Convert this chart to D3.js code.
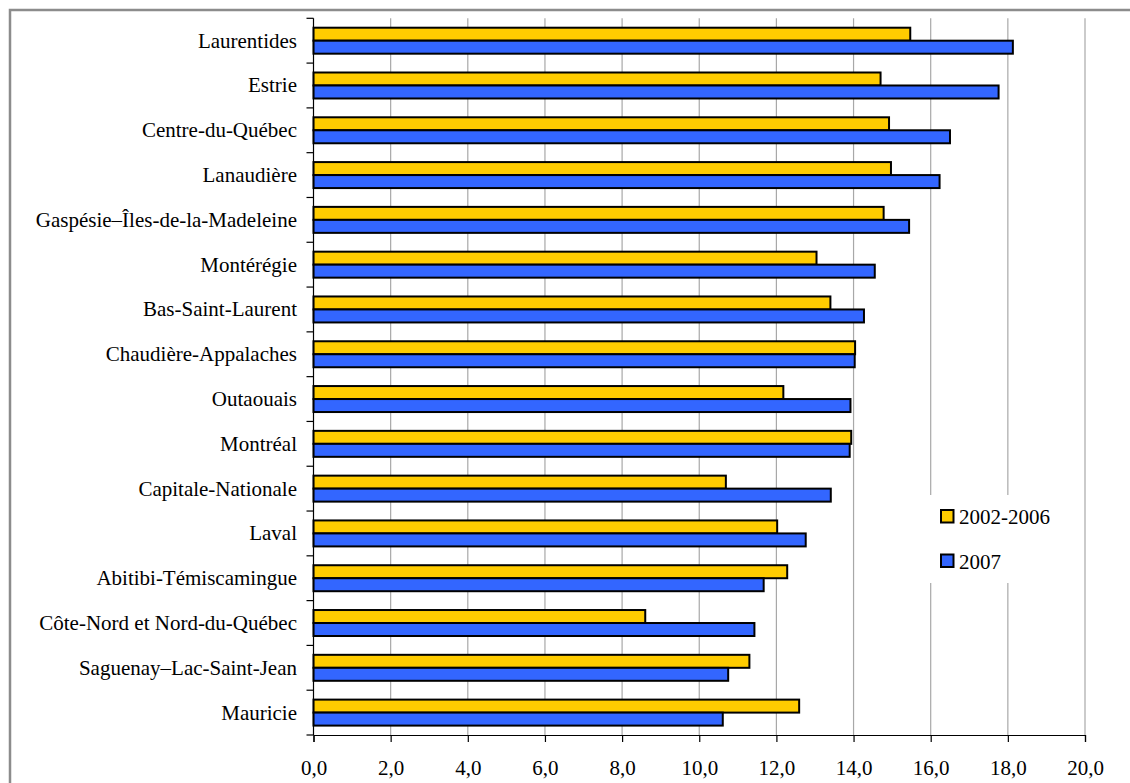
<!DOCTYPE html>
<html>
<head>
<meta charset="utf-8">
<script src="https://cdn.jsdelivr.net/npm/d3@7"></script>
<style>
  html, body { margin: 0; padding: 0; background: #fff; }
  svg { display: block; }
  svg text { font-family: "Liberation Serif", "Times New Roman", Times, "DejaVu Serif", serif; font-size: 21px; fill: #000; }
</style>
</head>
<body>
<svg id="chart" width="1130" height="783"></svg>
<script>
const categories = [
  "Laurentides", "Estrie", "Centre-du-Québec", "Lanaudière",
  "Gaspésie–Îles-de-la-Madeleine", "Montérégie", "Bas-Saint-Laurent",
  "Chaudière-Appalaches", "Outaouais", "Montréal", "Capitale-Nationale",
  "Laval", "Abitibi-Témiscamingue", "Côte-Nord et Nord-du-Québec",
  "Saguenay–Lac-Saint-Jean", "Mauricie"
];
const series2002_2006 = [15.47, 14.70, 14.92, 14.97, 14.78, 13.04, 13.40, 14.04, 12.18, 13.94, 10.69, 12.02, 12.28, 8.60, 11.30, 12.59];
const series2007 = [18.13, 17.76, 16.50, 16.23, 15.44, 14.55, 14.27, 14.03, 13.92, 13.90, 13.41, 12.76, 11.67, 11.43, 10.75, 10.61];
const seriesNames = ["2002-2006", "2007"];
const seriesColors = ["#FFCC00", "#3366FF"];
const xTicks = [0, 2, 4, 6, 8, 10, 12, 14, 16, 18, 20];

(function () {
const svg = d3.select("#chart");

const plotL = 313.5, plotR = 1085, plotT = 18.3, plotB = 735;

const x = d3.scaleLinear().domain([0, 20]).range([plotL, plotR]);
const y = d3.scaleBand().domain(categories).range([plotT, plotB]).padding(0);

// outer frame
svg.append("rect")
  .attr("x", 10).attr("y", 10)
  .attr("width", 1140).attr("height", 800)
  .attr("fill", "none").attr("stroke", "#8c8c8c").attr("stroke-width", 2.5);

// gridlines
svg.append("g").selectAll("line")
  .data(xTicks.filter(d => d > 0))
  .join("line")
  .attr("x1", d => x(d)).attr("x2", d => x(d))
  .attr("y1", plotT).attr("y2", plotB)
  .attr("stroke", "#a8a8a8").attr("stroke-width", 1.2);

// bars
const bh = y.bandwidth() * 0.29;
const rows = categories.map((c, i) => ({ c, v: [series2002_2006[i], series2007[i]] }));
const barG = svg.append("g");
[0, 1].forEach(s => {
  barG.append("g").selectAll("rect")
    .data(rows)
    .join("rect")
    .attr("x", x(0))
    .attr("y", d => y(d.c) + y.bandwidth() / 2 - bh + s * bh)
    .attr("width", d => x(d.v[s]) - x(0))
    .attr("height", bh)
    .attr("fill", seriesColors[s])
    .attr("stroke", "#000")
    .attr("stroke-width", 2);
});

// x axis
const xAxis = d3.axisBottom(x)
  .tickValues(xTicks)
  .tickSize(7)
  .tickFormat(d => d3.format(".1f")(d).replace(".", ","));
const gx = svg.append("g").attr("transform", `translate(0,${plotB})`).call(xAxis);
gx.attr("font-family", null).attr("font-size", null);
gx.select(".domain").attr("stroke", "#000").attr("stroke-width", 1.2);
gx.selectAll(".tick line").attr("stroke", "#000").attr("stroke-width", 1.2);
gx.selectAll(".tick text")
  .attr("fill", "#000")
  .attr("y", 40).attr("dy", 0);

// y axis: domain line + ticks at band boundaries
const gy = svg.append("g");
gy.append("line")
  .attr("x1", plotL).attr("x2", plotL).attr("y1", plotT).attr("y2", plotB)
  .attr("stroke", "#000").attr("stroke-width", 1.2);
const boundaries = categories.map(c => y(c)).concat([plotB]);
gy.selectAll(".yt")
  .data(boundaries)
  .join("line")
  .attr("class", "yt")
  .attr("x1", plotL - 7).attr("x2", plotL)
  .attr("y1", d => d).attr("y2", d => d)
  .attr("stroke", "#000").attr("stroke-width", 1.2);
gy.selectAll(".yl")
  .data(categories)
  .join("text")
  .attr("class", "yl")
  .attr("x", 297)
  .attr("y", d => y(d) + y.bandwidth() / 2 + 7)
  .attr("text-anchor", "end")
  .text(d => d);

// legend
const lg = svg.append("g");
lg.append("rect")
  .attr("x", 922).attr("y", 495).attr("width", 156).attr("height", 88)
  .attr("fill", "#fff");
const items = lg.selectAll(".li")
  .data(seriesNames)
  .join("g")
  .attr("class", "li")
  .attr("transform", (d, i) => `translate(941,${510 + i * 44.5})`);
items.append("rect")
  .attr("width", 12.5).attr("height", 12.5)
  .attr("fill", (d, i) => seriesColors[i])
  .attr("stroke", "#000").attr("stroke-width", 2);
items.append("text")
  .attr("x", 18).attr("y", 14)
  .text(d => d);
})();
</script>
</body>
</html>
